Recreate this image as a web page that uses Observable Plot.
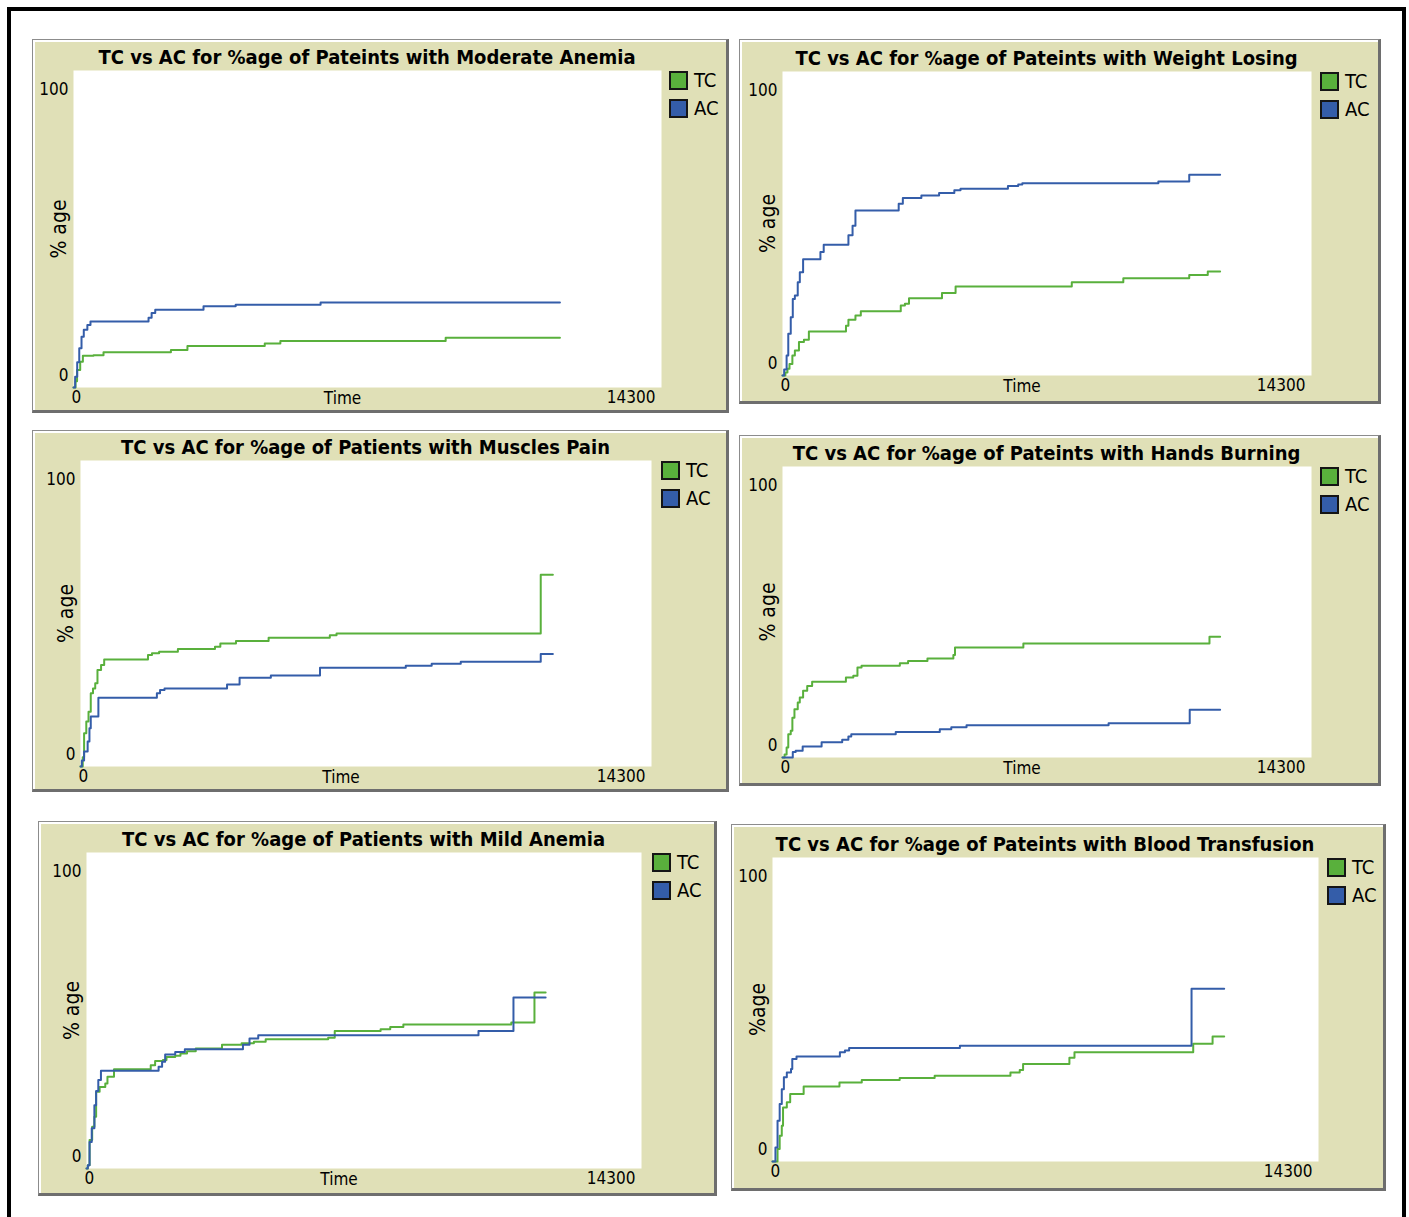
<!DOCTYPE html>
<html><head><meta charset="utf-8">
<script src="https://cdn.jsdelivr.net/npm/d3@7"></script>
<script src="https://cdn.jsdelivr.net/npm/@observablehq/plot@0.6"></script>
<style>
html,body{margin:0;padding:0;background:#fff;width:1409px;height:1217px;overflow:hidden;position:relative;}
#frame{position:absolute;left:7px;top:7px;width:1399px;height:1240px;border:4px solid #000;box-sizing:border-box;}
.panel{position:absolute;box-sizing:border-box;background:#e0e0b7;border-style:solid;border-width:1px 3px 3px 1px;border-color:#8c8c8c #6e6e6e #6e6e6e #8c8c8c;box-shadow:inset 2px 2px 0 #fff;}
.title{position:absolute;font-weight:bold;font-size:20px;font-family:"DejaVu Sans Condensed","DejaVu Sans",sans-serif;font-stretch:condensed;white-space:nowrap;transform:translate(-50%,-50%);color:#000;}
.sw{position:absolute;width:19px;height:19px;box-sizing:border-box;border:2px solid #151515;}
.lt{position:absolute;font-size:20px;font-family:"DejaVu Sans Condensed","DejaVu Sans",sans-serif;font-stretch:condensed;line-height:19px;color:#000;}
.plot{position:absolute;}
</style>
</head><body>
<div id="frame"></div>
<script>
// ---------- data ----------
const xMax = 14300;
const yMax = 100;
const yTicksTop = [100];
const yTicksBottom = [0];
const xTicksStart = [0];
const xTicksEnd = [14300];
const seriesNames = ["TC", "AC"];

const titles = [
  "TC vs AC for %age of Pateints with Moderate Anemia",
  "TC vs AC for %age of Pateints with Weight Losing",
  "TC vs AC for %age of Patients with Muscles Pain",
  "TC vs AC for %age of Pateints with Hands Burning",
  "TC vs AC for %age of Patients with Mild Anemia",
  "TC vs AC for %age of Pateints with Blood Transfusion"
];
const yLabels = ["% age", "% age", "% age", "% age", "% age", "%age"];
const xLabels = ["Time", "Time", "Time", "Time", "Time", ""];

// [time, percentage] step points
const moderateAnemiaTC = [[0,0],[50,2],[87,5.5],[163,8.1],[228,10],[487,10.2],[730,11.1],[2369,11.8],[2771,13.1],[4651,13.9],[5031,14.7],[9051,15.7],[11830,15.7]];
const moderateAnemiaAC = [[0,0],[40,3.4],[90,8],[140,12.4],[195,16],[250,18.2],[337,19.7],[413,20.8],[1825,22],[1900,23.5],[1988,24.5],[3162,25.6],[3944,26.1],[6009,26.8],[11830,26.8]];

const weightLosingTC = [[0,0],[78,1],[134,2.2],[189,3.8],[267,6.6],[334,8.2],[445,11],[579,11.8],[713,14.5],[1716,16.4],[1782,18.3],[1972,19.7],[2117,21.1],[3197,23],[3309,23.6],[3420,25.4],[4311,27.1],[4679,29.3],[7820,30.7],[9213,32],[10995,33.1],[11496,34.2],[11830,34.2]];
const weightLosingAC = [[0,0],[45,2],[111,6.6],[156,13.7],[223,19.2],[278,25.2],[334,26.3],[412,30.7],[468,34],[557,38.2],[1025,40.6],[1114,43],[1782,46.1],[1894,49.3],[1972,54.3],[3141,56.5],[3253,58.4],[3754,59.2],[4233,60],[4645,60.9],[4812,61.4],[6094,62.3],[6372,62.8],[6483,63.2],[10160,63.8],[10995,66],[11830,66]];

const musclesPainTC = [[0,0],[56,3],[90,10.9],[145,14.7],[201,17.9],[257,23.9],[313,25.5],[369,27.2],[425,31.5],[515,33.2],[593,35],[1690,36.4],[1790,37],[1969,37.5],[2439,38.4],[3368,39.1],[3502,40.2],[3894,41],[4711,42.1],[6244,42.9],[6412,43.5],[11526,62.7],[11830,62.7]];
const musclesPainAC = [[0,0],[34,2],[90,4.9],[179,8.2],[224,12.5],[257,16.3],[448,22.5],[1913,23.9],[1992,25],[2104,25.5],[3670,26.8],[3984,29],[4767,29.7],[5998,32.3],[8146,32.9],[8795,33.6],[9523,34.2],[11526,36.8],[11830,36.8]];

const handsBurningTC = [[0,0],[56,1],[111,3.4],[156,8],[223,9.2],[267,13.7],[323,16.6],[412,18.9],[467,20.6],[557,22.9],[668,24.6],[801,26],[1714,27.5],[1914,28.1],[2026,30.9],[2137,31.5],[3172,32.4],[3395,33.2],[3918,34],[4619,35.2],[4663,37.8],[6511,39.2],[11542,41.5],[11830,41.5]];
const handsBurningAC = [[0,0],[278,1.9],[356,2.3],[545,3.8],[1057,5.2],[1614,6.1],[1781,7.2],[1859,8],[3061,8.8],[4252,9.7],[4563,10.4],[4975,11.1],[8815,11.8],[11008,16.4],[11830,16.4]];

const mildAnemiaTC = [[0,0],[34,1],[79,9],[146,13.2],[203,16.4],[248,24.3],[338,25.8],[484,26.9],[540,29],[709,31.4],[1655,32.7],[1768,34],[1970,34.3],[2061,35.3],[2286,35.7],[2421,36.4],[2590,37.1],[2815,38],[3491,39.2],[3997,39.6],[4313,40.1],[4617,40.9],[6227,41.4],[6396,43.5],[7578,44.1],[7826,44.8],[8164,45.6],[10945,46.2],[11542,55.7],[11830,55.7]];
const mildAnemiaAC = [[0,0],[34,1],[79,8.4],[135,12.7],[203,20],[248,24.5],[304,28],[372,30.9],[1858,32.2],[1948,33.8],[2027,36.1],[2286,36.9],[2534,37.7],[4031,39.2],[4200,41.1],[4425,42.2],[10100,43.5],[11001,54.1],[11830,54.1]];

const bloodTransfusionTC = [[0,0],[55,0],[132,4.1],[188,8.5],[243,11.8],[276,17.8],[375,19.5],[463,22.2],[816,24.7],[1754,26],[2338,26.8],[3331,27.5],[4247,28.2],[6232,29.3],[6475,30.1],[6563,32.1],[7776,34.1],[7909,35.9],[11019,38.7],[11526,41.1],[11830,41.1]];
const bloodTransfusionAC = [[0,0],[33,0],[77,4.6],[132,13.4],[188,18.9],[243,23.8],[298,27.7],[375,29.3],[485,30.4],[518,33.7],[629,34.5],[1765,35.9],[1897,36.5],[2007,37.3],[4908,38.1],[10975,56.8],[11830,56.8]];

const tcSeries = [moderateAnemiaTC, weightLosingTC, musclesPainTC, handsBurningTC, mildAnemiaTC, bloodTransfusionTC];
const acSeries = [moderateAnemiaAC, weightLosingAC, musclesPainAC, handsBurningAC, mildAnemiaAC, bloodTransfusionAC];

// ---------- layout (page pixels) ----------
const colors = {TC: "#59b03c", AC: "#345da9"};
const outerBoxes = [[32,39,729,413],[739,39,1381,404],[32,430,729,792],[739,435,1381,786],[38,821,717,1196],[731,824,1386,1191]];
const plotBoxes  = [[73,70,661,387],[782,71,1311,375],[80,460,651,766],[782,466,1311,757],[86,852,641,1168],[772,857,1318,1161]];
const legendX = [669,1320,661,1320,652,1327];
const font = '"DejaVu Sans Condensed","DejaVu Sans",sans-serif';

const rows = arr => arr.map(([t, v]) => ({t, v}));

titles.forEach((title, i) => {
  const [ox0, oy0, ox1, oy1] = outerBoxes[i];
  const [wx0, wy0, wx1, wy1] = plotBoxes[i];
  const W = ox1 - ox0, H = oy1 - oy0;

  const panel = document.createElement("div");
  panel.className = "panel";
  Object.assign(panel.style, {left: ox0 + "px", top: oy0 + "px", width: W + "px", height: H + "px"});
  document.body.append(panel);

  const svg = Plot.plot({
    width: W, height: H,
    marginLeft: wx0 - ox0, marginRight: ox1 - wx1, marginTop: wy0 - oy0, marginBottom: oy1 - wy1,
    x: {domain: [0, xMax], axis: null, label: null},
    y: {domain: [0, yMax], axis: null, label: null},
    style: {background: "transparent", overflow: "visible", fontFamily: font, fontStretch: "condensed", fontSize: "17px", color: "#000"},
    marks: [
      Plot.frame({fill: "#fff", stroke: "none"}),
      Plot.line(rows(tcSeries[i]), {x: "t", y: "v", curve: "step-after", stroke: colors.TC, strokeWidth: 2}),
      Plot.line(rows(acSeries[i]), {x: "t", y: "v", curve: "step-after", stroke: colors.AC, strokeWidth: 2}),
      Plot.axisY(yTicksTop, {tickSize: 0, tickPadding: 5, dy: 19, label: null, fill: "#000"}),
      Plot.axisY(yTicksBottom, {tickSize: 0, tickPadding: 5, dy: -12, label: null, fill: "#000"}),
      Plot.axisX(xTicksStart, {tickSize: 0, tickPadding: 3, textAnchor: "start", dx: -2, label: null, tickFormat: d => String(d), fill: "#000"}),
      Plot.axisX(xTicksEnd, {tickSize: 0, tickPadding: 3, textAnchor: "end", dx: -6, label: null, tickFormat: d => String(d), fill: "#000"}),
      Plot.text([xLabels[i]], {text: d => d, frameAnchor: "bottom", lineAnchor: "middle", dy: 11, dx: -25, fill: "#000"}),
      Plot.text([yLabels[i]], {text: d => d, frameAnchor: "left", textAnchor: "middle", lineAnchor: "middle", rotate: -90, dx: -14, fontSize: 21, fill: "#000"})
    ]
  });
  svg.classList.add("plot");
  Object.assign(svg.style, {left: ox0 + "px", top: oy0 + "px"});
  document.body.append(svg);

  const t = document.createElement("div");
  t.className = "title";
  t.textContent = title;
  Object.assign(t.style, {left: ((wx0 + wx1) / 2) + "px", top: (wy0 - 13.5) + "px"});
  document.body.append(t);

  seriesNames.forEach((name, k) => {
    const sw = document.createElement("div");
    sw.className = "sw";
    Object.assign(sw.style, {left: legendX[i] + "px", top: (wy0 + 1 + k * 28) + "px", background: colors[name]});
    document.body.append(sw);
    const lt = document.createElement("div");
    lt.className = "lt";
    lt.textContent = name;
    Object.assign(lt.style, {left: (legendX[i] + 25) + "px", top: (wy0 + 1 + k * 28) + "px"});
    document.body.append(lt);
  });
});
</script>
</body></html>
